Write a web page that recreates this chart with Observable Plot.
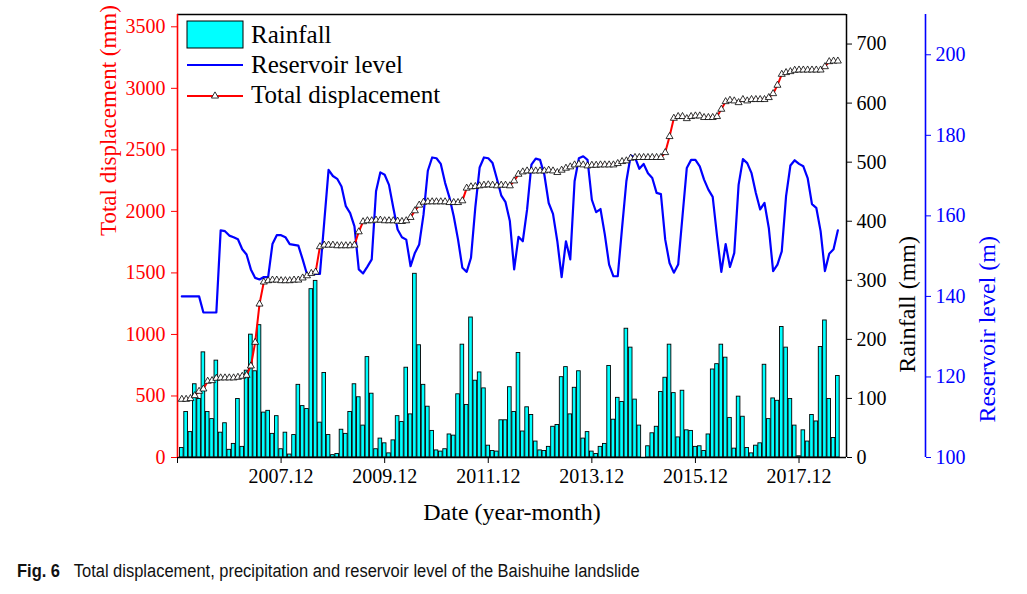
<!DOCTYPE html>
<html>
<head>
<meta charset="utf-8">
<script src="https://cdn.jsdelivr.net/npm/d3@7"></script>
<script src="https://cdn.jsdelivr.net/npm/@observablehq/plot@0.6"></script>
<style>
  html, body { margin: 0; padding: 0; background: #fff; }
  body { width: 1027px; height: 594px; overflow: hidden; position: relative; font-family: "Liberation Serif", "Times New Roman", serif; }
  #chart { position: absolute; left: 0; top: 0; width: 1027px; height: 530px; }
  #chart svg { position: absolute; left: 0; top: 0; }
  #chart svg text { font-family: "Liberation Serif", "Times New Roman", serif !important; font-variant: normal !important; }
  #legend { position: absolute; left: 0; top: 0; }
  #caption { position: absolute; left: 17px; top: 561px; font-family: "Liberation Sans", Arial, sans-serif; font-size: 18px; color: #111; white-space: nowrap; transform: scaleX(0.915); transform-origin: left top; }
</style>
</head>
<body>
<div id="chart"></div>
<svg id="legend" width="470" height="120" style="font-family:'Liberation Serif','Times New Roman',serif"></svg>
<div id="caption"><b>Fig. 6</b>&nbsp;&nbsp;&nbsp;Total displacement, precipitation and reservoir level of the Baishuihe landslide</div>
<script>
// ---- Data (monthly, 2006.1 – 2018.9; month index 0 = 2005.12) ----
const rainfall = [
  16, 77, 43, 124, 99, 178, 77, 65, 164, 42,
  58, 13, 23, 99, 18, 147, 208, 146, 224, 76,
  79, 40, 70, 14, 42, 5, 38, 123, 87, 82,
  285, 299, 59, 143, 38, 4, 6, 47, 40, 77,
  124, 102, 54, 170, 108, 14, 32, 24, 7, 29,
  70, 60, 152, 73, 311, 190, 123, 86, 45, 12,
  10, 14, 39, 37, 107, 191, 89, 237, 130, 144,
  117, 20, 11, 10, 63, 63, 119, 77, 177, 44,
  85, 72, 27, 12, 11, 18, 52, 55, 136, 153,
  73, 118, 146, 32, 43, 10, 6, 18, 23, 155,
  64, 101, 94, 218, 186, 98, 54, 0, 19, 41,
  52, 111, 135, 191, 109, 34, 113, 46, 45, 18,
  19, 11, 39, 149, 158, 191, 169, 67, 15, 103,
  69, 16, 7, 20, 24, 157, 65, 100, 96, 221,
  186, 99, 54, 2, 46, 27, 72, 61, 187, 232,
  99, 33, 138
];
const reservoirLevel = [
  140, 140, 140, 140, 140, 136, 136, 136, 136, 156.4,
  156.2, 155.1, 154.7, 154.2, 151.7, 150.4, 146.7, 144.6, 144.2, 144.8,
  144.8, 153, 155.2, 155.2, 154.7, 153, 152.8, 152.6, 149.2, 145.5,
  145.5, 145.6, 145.6, 158.5, 171.4, 169.9, 169.2, 167.3, 162.4, 160.7,
  157.4, 146.7, 145.7, 147.4, 149.2, 166.1, 170.8, 170.2, 167.7, 162,
  156.6, 154.7, 154.1, 147.5, 150.8, 152.9, 160.3, 171.2, 174.5, 174.3,
  172.9, 168.2, 164.6, 159.9, 154.1, 147.1, 146.1, 149.6, 162.1, 172,
  174.5, 174.3, 173.1, 169.2, 165.1, 163.4, 158.7, 146.7, 154.8, 153.7,
  161.6, 172.7, 174.2, 173.9, 170.2, 163.2, 160.5, 153.7, 144.8, 153.7,
  149.2, 168.6, 174.3, 174.8, 173.9, 164, 160.9, 161.7, 155.4, 147.9,
  145, 145, 157, 168.6, 175, 174.5, 171.7, 172.9, 170.6, 169.4,
  165.7, 165.4, 154.1, 148.3, 145.9, 147.9, 159.9, 171.9, 173.9, 173.9,
  172.3, 169, 166.5, 164.7, 155, 146.1, 153, 147.3, 150.8, 167.7,
  174.1, 173.1, 170.6, 165.7, 161.6, 163.2, 157, 146.3, 147.9, 151.2,
  164.9, 172.5, 173.8, 172.9, 172.3, 169.4, 162.9, 162, 156.2, 146.3,
  150.6, 151.7, 156.4
];
const totalDisplacement = [
  473, 473, 479, 503, 538, 557, 620, 625, 644, 647,
  647, 647, 647, 652, 660, 668, 744, 936, 1247, 1426,
  1437, 1442, 1442, 1437, 1437, 1437, 1442, 1442, 1459, 1477,
  1496, 1507, 1713, 1726, 1726, 1726, 1721, 1721, 1721, 1721,
  1726, 1834, 1916, 1924, 1924, 1929, 1929, 1924, 1924, 1924,
  1921, 1918, 1924, 1951, 2005, 2051, 2075, 2078, 2078, 2078,
  2078, 2078, 2072, 2072, 2072, 2086, 2189, 2200, 2202, 2208,
  2213, 2216, 2213, 2208, 2213, 2213, 2208, 2248, 2302, 2321,
  2329, 2329, 2329, 2329, 2329, 2335, 2329, 2316, 2335, 2351,
  2362, 2378, 2384, 2378, 2370, 2375, 2375, 2378, 2378, 2378,
  2378, 2389, 2405, 2411, 2432, 2438, 2438, 2438, 2438, 2438,
  2438, 2438, 2478, 2608, 2757, 2771, 2771, 2754, 2771, 2776,
  2776, 2763, 2763, 2763, 2771, 2830, 2892, 2903, 2898, 2884,
  2909, 2898, 2909, 2909, 2909, 2909, 2925, 2957, 3025, 3114,
  3128, 3136, 3147, 3149, 3149, 3149, 3149, 3149, 3149, 3176,
  3217, 3222, 3222
];
const xTickMonths = [0, 24, 48, 72, 96, 120, 144];
const xTickLabels = ["", "2007.12", "2009.12", "2011.12", "2013.12", "2015.12", "2017.12"];
const dispTicks = [0, 500, 1000, 1500, 2000, 2500, 3000, 3500];
const rainTicks = [0, 100, 200, 300, 400, 500, 600, 700];
const levelTicks = [100, 120, 140, 160, 180, 200];

// ---- Tables built from the arrays ----
const rows = rainfall.map((r, i) => ({
  m: i + 1, r, level: reservoirLevel[i], disp: totalDisplacement[i]
}));
const xLabel = new Map(xTickMonths.map((m, i) => [m, xTickLabels[i]]));

const SERIF = "'Liberation Serif', 'Times New Roman', serif";
const W = 1027, H = 530;
const common = {
  width: W, height: H,
  marginLeft: 177, marginRight: 181, marginTop: 14, marginBottom: 73,
  style: { background: "transparent", overflow: "visible", fontFamily: SERIF },
  x: { domain: [0, 155], axis: null }
};
const BLUE = "#0000ff";
const axisFont = { fontSize: 20, fontFamily: SERIF, fontVariant: "normal", label: null };

// Layer 1: rainfall bars, right (rainfall) axis, x axis, frame
const rainPlot = Plot.plot({
  ...common,
  y: { domain: [0, 750], axis: null },
  marks: [
    Plot.rectY(rows, { x1: d => d.m - 0.5, x2: d => d.m + 0.5, y: "r",
      fill: "#00ffff", stroke: "#000", strokeWidth: 0.9, insetLeft: 0.35, insetRight: 0.35 }),
    Plot.ruleY([0], { stroke: "#000", strokeWidth: 1.5 }),
    Plot.ruleY([750], { stroke: "#000", strokeWidth: 1.5 }),
    Plot.ruleX([155], { stroke: "#000", strokeWidth: 1.5 }),
    Plot.axisY(rainTicks, { ...axisFont, anchor: "right", tickSize: 5, tickPadding: 5, color: "#000", tickFormat: d => String(d) }),
    Plot.axisX(xTickMonths, { ...axisFont, anchor: "bottom", tickSize: 6, tickPadding: 5, color: "#000", tickFormat: d => xLabel.get(d) }),
    Plot.text(["Rainfall (mm)"], { frameAnchor: "right", dx: 61, rotate: -90, fontSize: 24, fontFamily: SERIF, fill: "#000" }),
    Plot.text(["Date (year-month)"], { frameAnchor: "bottom", dy: 62, fontSize: 24, fontFamily: SERIF, fill: "#000" })
  ]
});

// Layer 2: reservoir level line and its offset axis
const levelPlot = Plot.plot({
  ...common,
  y: { domain: [100, 210], axis: null },
  marks: [
    Plot.line(rows, { x: "m", y: "level", stroke: BLUE, strokeWidth: 2.2 }),
    Plot.ruleX([155], { dx: 79, stroke: BLUE, strokeWidth: 1.6 }),
    Plot.axisY(levelTicks, { ...axisFont, anchor: "right", dx: 79, tickSize: 5, tickPadding: 5, color: BLUE, tickFormat: d => String(d) }),
    Plot.text(["Reservoir level (m)"], { frameAnchor: "right", dx: 141, rotate: -90, fontSize: 24, fontFamily: SERIF, fill: BLUE })
  ]
});

// Layer 3: total displacement line with triangle markers, left axis
const dispPlot = Plot.plot({
  ...common,
  y: { domain: [0, 3600], axis: null },
  marks: [
    Plot.ruleX([0], { stroke: "red", strokeWidth: 1.6 }),
    Plot.axisY(dispTicks, { ...axisFont, anchor: "left", tickSize: 6, tickPadding: 6, color: "red", tickFormat: d => String(d) }),
    Plot.text(["Total displacement (mm)"], { frameAnchor: "left", dx: -69, rotate: -90, fontSize: 23, fontFamily: SERIF, fill: "red" }),
    Plot.line(rows, { x: "m", y: "disp", stroke: "red", strokeWidth: 2 }),
    Plot.dot(rows, { x: "m", y: "disp", symbol: "triangle", r: 2.6, stroke: "#000", fill: "#fff", strokeWidth: 0.8 })
  ]
});

const chart = document.getElementById("chart");
chart.append(rainPlot, levelPlot, dispPlot);
d3.selectAll("#chart svg, #chart svg g, #chart svg text")
  .attr("font-family", SERIF)
  .style("font-family", SERIF)
  .attr("font-variant", null);

// ---- Legend ----
const lg = d3.select("#legend");
lg.append("rect").attr("x", 187).attr("y", 21).attr("width", 56).attr("height", 27)
  .attr("fill", "#00ffff").attr("stroke", "#000").attr("stroke-width", 1);
lg.append("line").attr("x1", 187).attr("x2", 243).attr("y1", 65).attr("y2", 65)
  .attr("stroke", BLUE).attr("stroke-width", 2.2);
lg.append("line").attr("x1", 187).attr("x2", 243).attr("y1", 96).attr("y2", 96)
  .attr("stroke", "red").attr("stroke-width", 2);
lg.append("path").attr("d", d3.symbol(d3.symbolTriangle, 22)()).attr("transform", "translate(215,96)")
  .attr("fill", "#fff").attr("stroke", "#000").attr("stroke-width", 0.8);
const legendItems = ["Rainfall", "Reservoir level", "Total displacement"];
const legendBase = [43, 73, 103];
legendItems.forEach((t, i) => {
  lg.append("text").attr("x", 251).attr("y", legendBase[i]).attr("font-size", 25).attr("fill", "#000").text(t);
});
</script>
</body>
</html>
